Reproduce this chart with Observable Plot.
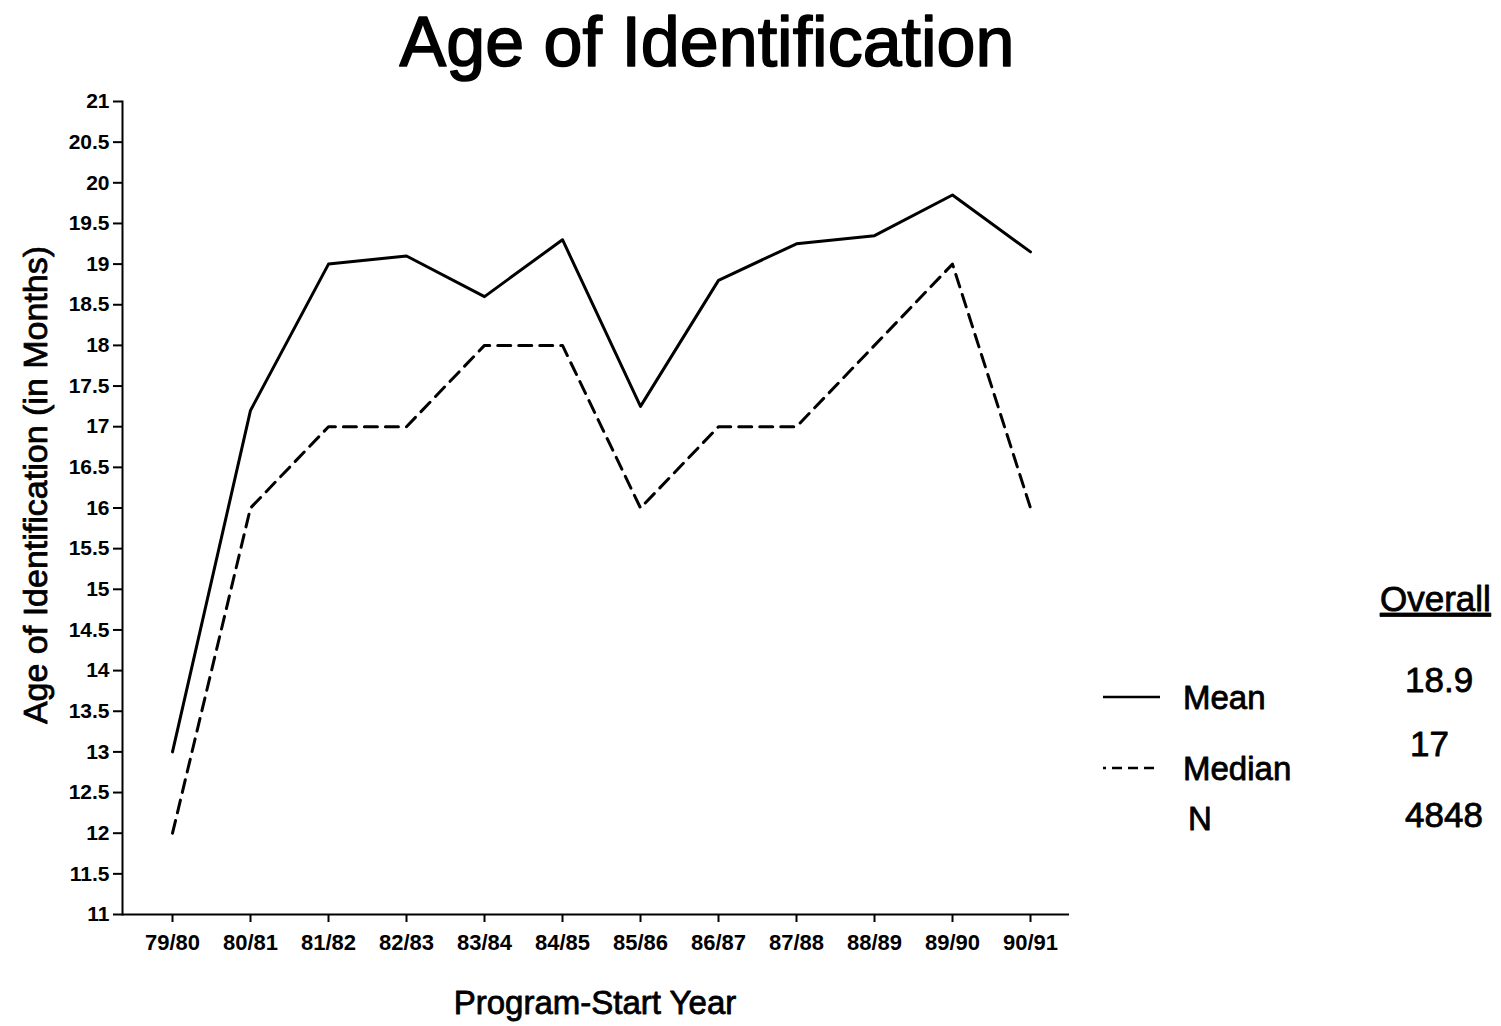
<!DOCTYPE html>
<html>
<head>
<meta charset="utf-8">
<script src="https://cdn.jsdelivr.net/npm/d3@7"></script>
<script src="https://cdn.jsdelivr.net/npm/@observablehq/plot@0.6"></script>
<style>
  html, body { margin: 0; padding: 0; background: #fff; }
  #chart svg { font-family: "Liberation Sans", Arial, Helvetica, sans-serif; background: #fff; }
  #chart svg g[aria-label="y-axis tick"], #chart svg g[aria-label="x-axis tick"] { stroke-width: 2; }
</style>
</head>
<body>
<div id="chart"></div>
<script>
// ---- data ----
const years = ["79/80", "80/81", "81/82", "82/83", "83/84", "84/85", "85/86", "86/87", "87/88", "88/89", "89/90", "90/91"];
const meanAge = [13.0, 17.2, 19.0, 19.1, 18.6, 19.3, 17.25, 18.8, 19.25, 19.35, 19.85, 19.15];
const medianAge = [12, 16, 17, 17, 18, 18, 16, 17, 17, 18, 19, 16];
const yTicks = [11, 11.5, 12, 12.5, 13, 13.5, 14, 14.5, 15, 15.5, 16, 16.5, 17, 17.5, 18, 18.5, 19, 19.5, 20, 20.5, 21];
const titleText = "Age of Identification";
const yLabelText = "Age of Identification (in Months)";
const xLabelText = "Program-Start Year";
const overallHeader = "Overall";
const overallLabels = ["Mean", "Median", "N"];
const overallValues = ["18.9", "17", "4848"];

const meanData = years.map((year, i) => ({year, value: meanAge[i]}));
const medianData = years.map((year, i) => ({year, value: medianAge[i]}));

const FONT = '"Liberation Sans", Arial, Helvetica, sans-serif';

const chart = Plot.plot({
  width: 1501,
  height: 1026,
  marginLeft: 122,
  marginRight: 432,
  marginTop: 101,
  marginBottom: 112,
  style: {fontFamily: FONT, color: "#000", background: "#fff"},
  x: {type: "point", domain: years, range: [172, 1030], padding: 0},
  y: {domain: [11, 21]},
  marks: [
    Plot.ruleY([11], {stroke: "#000", strokeWidth: 2}),
    Plot.frame({anchor: "left", stroke: "#000", strokeWidth: 2}),
    Plot.axisY({ticks: yTicks, tickFormat: d => String(d), tickSize: 9, tickPadding: 4, fontSize: 21, fontWeight: "bold", label: null, stroke: "#000"}),
    Plot.axisX({tickSize: 8, tickPadding: 12, fontSize: 22, fontWeight: "bold", label: null, stroke: "#000"}),
    Plot.line(meanData, {x: "year", y: "value", stroke: "#000", strokeWidth: 3}),
    Plot.line(medianData, {x: "year", y: "value", stroke: "#000", strokeWidth: 3, strokeDasharray: "13,8"})
  ]
});
document.getElementById("chart").appendChild(chart);

// ---- annotations (title, axis labels, legend) ----
const svg = d3.select(chart);
const ann = svg.append("g").attr("font-family", FONT).attr("fill", "#000").attr("text-anchor", "start")
  .attr("stroke", "#000").attr("stroke-width", 0.8).attr("stroke-linejoin", "round");

ann.append("text").attr("x", 707).attr("y", 66).attr("text-anchor", "middle")
  .attr("font-size", 70).attr("stroke-width", 1.6).text(titleText);

ann.append("text").attr("transform", "translate(47,485) rotate(-90)").attr("text-anchor", "middle")
  .attr("font-size", 34).text(yLabelText);

ann.append("text").attr("x", 595).attr("y", 1014).attr("text-anchor", "middle")
  .attr("font-size", 33).text(xLabelText);

// legend
ann.append("line").attr("x1", 1103).attr("x2", 1160).attr("y1", 697).attr("y2", 697)
  .attr("stroke", "#000").attr("stroke-width", 2.5);
ann.append("line").attr("x1", 1103).attr("x2", 1160).attr("y1", 768).attr("y2", 768)
  .attr("stroke", "#000").attr("stroke-width", 2.5).attr("stroke-dasharray", "10,6").attr("stroke-dashoffset", 7);

const rowY = [709, 780, 830];
const rowX = [1183, 1183, 1188];
overallLabels.forEach((t, i) => {
  ann.append("text").attr("x", rowX[i]).attr("y", rowY[i]).attr("text-anchor", "start")
    .attr("font-size", 33).text(t);
});
ann.append("text").attr("x", 1380).attr("y", 611).attr("text-anchor", "start").attr("font-size", 35)
  .attr("text-decoration", "underline").text(overallHeader);
const valY = [692, 756, 827];
const valX = [1405, 1410, 1405];
overallValues.forEach((t, i) => {
  ann.append("text").attr("x", valX[i]).attr("y", valY[i]).attr("text-anchor", "start")
    .attr("font-size", 35).text(t);
});
</script>
</body>
</html>
